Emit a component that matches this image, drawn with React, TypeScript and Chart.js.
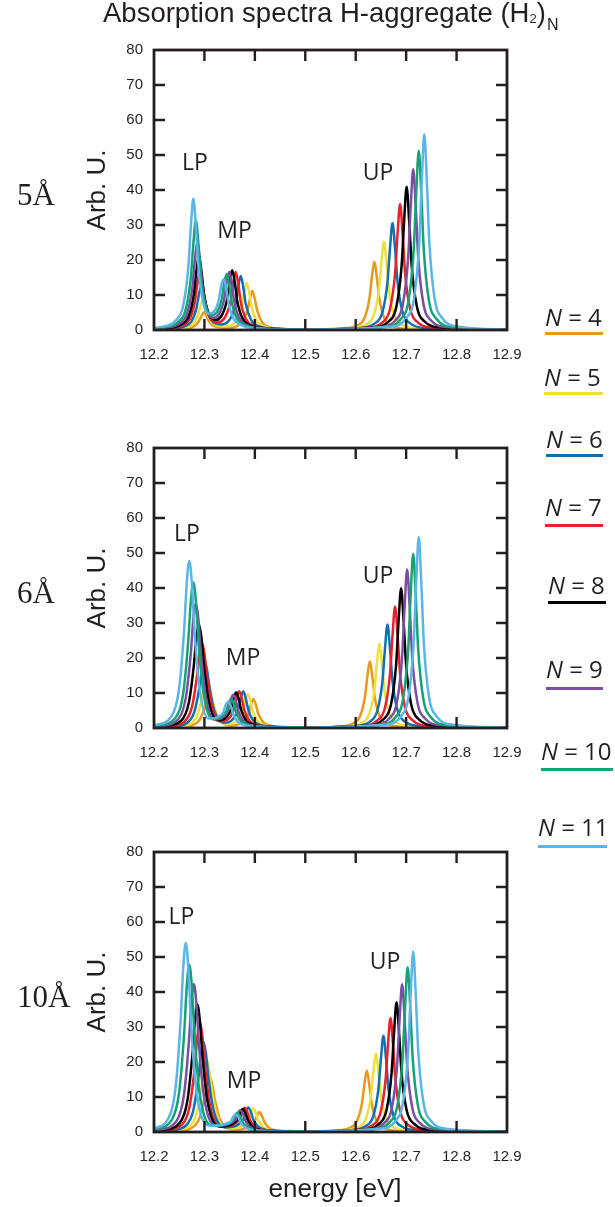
import React, { useEffect, useRef } from 'react';
import { Chart, registerables } from 'chart.js';

Chart.register(...registerables);

type Pt = [number, number];

// ---------- chart values ----------
const seriesN = [4, 5, 6, 7, 8, 9, 10, 11];
const seriesColors = ['#E9981C', '#EEE13A', '#1170B5', '#E8212B', '#000000', '#7B4FA0', '#16A274', '#5BB5E8'];
const xTicks = [12.2, 12.3, 12.4, 12.5, 12.6, 12.7, 12.8, 12.9];
const xTickLabels = ['12.2', '12.3', '12.4', '12.5', '12.6', '12.7', '12.8', '12.9'];
const yTicks = [0, 10, 20, 30, 40, 50, 60, 70, 80];
const yTickLabels = ['0', '10', '20', '30', '40', '50', '60', '70', '80'];
const panelLabels = ['5Å', '6Å', '10Å'];
const peakLabels = ['LP', 'MP', 'UP'];
const yTitle = 'Arb. U.';
const xTitle = 'energy [eV]';

// 5 Å spectra (energy eV, absorbance)
const s5_N4: Pt[] = [[12.2,0.05],[12.229,0.1],[12.264,0.4],[12.279,1.0],[12.289,2.5],[12.294,4.0],[12.299,5.1],[12.304,4.0],[12.309,2.5],[12.319,1.1],[12.347,0.6],[12.385,5.4],[12.39,8.8],[12.395,11.2],[12.4,8.8],[12.405,5.4],[12.415,2.1],[12.43,0.8],[12.465,0.25],[12.5,0.15],[12.567,0.35],[12.602,1.25],[12.617,3.3],[12.627,8.8],[12.632,15.0],[12.637,19.6],[12.642,15.0],[12.647,8.8],[12.657,3.3],[12.672,1.2],[12.707,0.3],[12.9,0.05]];
const s5_N5: Pt[] = [[12.2,0.1],[12.227,0.2],[12.262,0.65],[12.277,1.7],[12.287,4.2],[12.292,6.8],[12.297,8.6],[12.302,6.8],[12.307,4.2],[12.317,1.8],[12.3405,1.0],[12.374,6.5],[12.379,10.6],[12.384,13.4],[12.389,10.6],[12.394,6.4],[12.404,2.5],[12.419,1.0],[12.454,0.3],[12.5,0.15],[12.586,0.45],[12.621,1.6],[12.636,4.3],[12.646,11.3],[12.651,19.3],[12.656,25.3],[12.661,19.3],[12.666,11.3],[12.676,4.3],[12.691,1.6],[12.726,0.4],[12.9,0.05]];
const s5_N6: Pt[] = [[12.2,0.15],[12.224,0.3],[12.259,1.0],[12.274,2.4],[12.284,6.1],[12.289,10.0],[12.294,12.7],[12.299,10.1],[12.304,6.2],[12.314,2.7],[12.333,1.6],[12.362,7.5],[12.367,12.3],[12.372,15.4],[12.377,12.2],[12.382,7.4],[12.392,3.0],[12.407,1.1],[12.442,0.35],[12.5,0.15],[12.603,0.5],[12.638,1.9],[12.653,5.1],[12.663,13.7],[12.668,23.4],[12.673,30.6],[12.678,23.4],[12.683,13.7],[12.693,5.1],[12.708,1.9],[12.743,0.5],[12.9,0.05]];
const s5_N7: Pt[] = [[12.2,0.25],[12.221,0.35],[12.256,1.3],[12.271,3.2],[12.281,8.0],[12.286,13.2],[12.291,16.8],[12.296,13.3],[12.301,8.2],[12.311,3.6],[12.3265,2.2],[12.352,8.3],[12.357,13.3],[12.362,16.6],[12.367,13.2],[12.372,8.1],[12.382,3.2],[12.397,1.3],[12.432,0.4],[12.5,0.15],[12.618,0.6],[12.653,2.2],[12.668,6.0],[12.678,16.1],[12.683,27.5],[12.688,36.0],[12.693,27.5],[12.698,16.1],[12.708,6.0],[12.723,2.2],[12.758,0.6],[12.9,0.05]];
const s5_N8: Pt[] = [[12.2,0.3],[12.219,0.45],[12.254,1.6],[12.269,4.0],[12.279,10.2],[12.284,16.7],[12.289,21.3],[12.294,16.9],[12.299,10.4],[12.309,4.6],[12.322,2.9],[12.345,8.7],[12.35,13.9],[12.355,17.1],[12.36,13.8],[12.365,8.4],[12.375,3.4],[12.39,1.4],[12.425,0.45],[12.5,0.15],[12.631,0.7],[12.666,2.5],[12.681,6.9],[12.691,18.3],[12.696,31.2],[12.701,40.9],[12.706,31.2],[12.711,18.3],[12.721,6.9],[12.736,2.5],[12.771,0.7],[12.9,0.05]];
const s5_N9: Pt[] = [[12.2,0.35],[12.216,0.55],[12.251,1.9],[12.266,4.8],[12.276,12.1],[12.281,19.9],[12.286,25.3],[12.291,20.0],[12.296,12.4],[12.306,5.4],[12.3175,3.5],[12.339,8.7],[12.344,13.7],[12.349,16.6],[12.354,13.5],[12.359,8.3],[12.369,3.4],[12.384,1.4],[12.419,0.45],[12.5,0.15],[12.644,0.75],[12.679,2.8],[12.694,7.7],[12.704,20.6],[12.709,35.1],[12.714,45.9],[12.719,35.1],[12.724,20.6],[12.734,7.7],[12.749,2.8],[12.784,0.75],[12.9,0.05]];
const s5_N10: Pt[] = [[12.2,0.45],[12.213,0.65],[12.248,2.3],[12.263,5.9],[12.273,14.9],[12.278,24.5],[12.283,31.3],[12.288,24.7],[12.293,15.2],[12.303,6.5],[12.3135,4.2],[12.334,8.6],[12.339,13.3],[12.344,15.9],[12.349,13.1],[12.354,8.1],[12.364,3.4],[12.379,1.4],[12.414,0.45],[12.5,0.15],[12.655,0.8],[12.69,3.2],[12.705,8.6],[12.715,22.9],[12.72,39.1],[12.725,51.2],[12.73,39.1],[12.735,22.9],[12.745,8.6],[12.76,3.2],[12.795,0.8],[12.9,0.1]];
const s5_N11: Pt[] = [[12.2,0.6],[12.208,0.75],[12.243,2.7],[12.258,7.0],[12.268,17.8],[12.273,29.4],[12.278,37.5],[12.283,29.6],[12.288,18.1],[12.298,7.6],[12.308,4.7],[12.328,8.2],[12.333,12.4],[12.338,14.5],[12.343,12.1],[12.348,7.5],[12.358,3.2],[12.373,1.4],[12.408,0.45],[12.5,0.15],[12.666,0.9],[12.701,3.5],[12.716,9.4],[12.726,25.0],[12.731,42.7],[12.736,55.9],[12.741,42.7],[12.746,25.0],[12.756,9.4],[12.771,3.5],[12.806,0.9],[12.9,0.1]];

// 6 Å spectra
const s6_N4: Pt[] = [[12.2,0.1],[12.24,0.15],[12.275,0.7],[12.29,2.2],[12.3,5.5],[12.305,7.9],[12.31,9.1],[12.315,7.9],[12.32,5.5],[12.33,2.3],[12.3535,0.7],[12.387,4.1],[12.392,6.6],[12.397,8.3],[12.402,6.6],[12.407,4.0],[12.417,1.6],[12.432,0.6],[12.467,0.25],[12.5,0.15],[12.558,0.3],[12.593,1.2],[12.608,3.2],[12.618,8.6],[12.623,14.6],[12.628,19.1],[12.633,14.6],[12.638,8.6],[12.648,3.2],[12.663,1.2],[12.698,0.3],[12.9,0.05]];
const s6_N5: Pt[] = [[12.2,0.1],[12.235,0.25],[12.27,1.0],[12.285,3.4],[12.295,8.5],[12.3,12.3],[12.305,14.1],[12.31,12.3],[12.315,8.6],[12.325,3.6],[12.3455,1.1],[12.376,4.8],[12.381,7.8],[12.386,9.7],[12.391,7.7],[12.396,4.7],[12.406,1.9],[12.421,0.75],[12.456,0.25],[12.5,0.15],[12.577,0.4],[12.612,1.5],[12.627,4.1],[12.637,10.8],[12.642,18.5],[12.647,24.2],[12.652,18.5],[12.657,10.8],[12.667,4.1],[12.682,1.5],[12.717,0.4],[12.9,0.05]];
const s6_N6: Pt[] = [[12.2,0.15],[12.23,0.3],[12.265,1.4],[12.28,4.6],[12.29,11.5],[12.295,16.6],[12.3,19.1],[12.305,16.7],[12.31,11.6],[12.32,4.8],[12.3385,1.5],[12.367,5.3],[12.372,8.5],[12.377,10.5],[12.382,8.4],[12.387,5.2],[12.397,2.1],[12.412,0.8],[12.447,0.3],[12.5,0.15],[12.593,0.5],[12.628,1.8],[12.643,5.0],[12.653,13.3],[12.658,22.6],[12.663,29.6],[12.668,22.6],[12.673,13.3],[12.683,5.0],[12.698,1.8],[12.733,0.5],[12.9,0.05]];
const s6_N7: Pt[] = [[12.2,0.2],[12.225,0.4],[12.26,1.8],[12.275,5.9],[12.285,14.6],[12.29,21.2],[12.295,24.3],[12.3,21.3],[12.305,14.8],[12.315,6.1],[12.332,1.9],[12.359,5.4],[12.364,8.6],[12.369,10.5],[12.374,8.5],[12.379,5.2],[12.389,2.1],[12.404,0.85],[12.439,0.3],[12.5,0.15],[12.608,0.55],[12.643,2.2],[12.658,5.8],[12.668,15.5],[12.673,26.5],[12.678,34.7],[12.683,26.5],[12.688,15.5],[12.698,5.8],[12.713,2.2],[12.748,0.55],[12.9,0.05]];
const s6_N8: Pt[] = [[12.2,0.3],[12.219,0.5],[12.254,2.1],[12.269,7.2],[12.279,17.9],[12.284,25.9],[12.289,29.7],[12.294,25.9],[12.299,18.0],[12.309,7.4],[12.326,2.2],[12.353,5.4],[12.358,8.5],[12.363,10.2],[12.368,8.4],[12.373,5.1],[12.383,2.1],[12.398,0.9],[12.433,0.3],[12.5,0.15],[12.62,0.65],[12.655,2.5],[12.67,6.7],[12.68,17.9],[12.685,30.5],[12.69,39.9],[12.695,30.5],[12.7,17.9],[12.71,6.7],[12.725,2.5],[12.76,0.65],[12.9,0.05]];
const s6_N9: Pt[] = [[12.2,0.4],[12.213,0.55],[12.248,2.5],[12.263,8.6],[12.273,21.4],[12.278,31.0],[12.283,35.6],[12.288,31.1],[12.293,21.5],[12.303,8.8],[12.32,2.4],[12.347,5.2],[12.352,8.0],[12.357,9.5],[12.362,7.9],[12.367,4.9],[12.377,2.0],[12.392,0.85],[12.427,0.3],[12.5,0.15],[12.632,0.75],[12.667,2.8],[12.682,7.6],[12.692,20.3],[12.697,34.6],[12.702,45.3],[12.707,34.6],[12.712,20.3],[12.722,7.6],[12.737,2.8],[12.772,0.75],[12.9,0.05]];
const s6_N10: Pt[] = [[12.2,0.5],[12.208,0.65],[12.243,3.0],[12.258,10.0],[12.268,25.0],[12.273,36.2],[12.278,41.6],[12.283,36.3],[12.288,25.1],[12.298,10.2],[12.3155,2.6],[12.343,4.7],[12.348,7.1],[12.353,8.3],[12.358,7.0],[12.363,4.4],[12.373,1.9],[12.388,0.8],[12.423,0.3],[12.5,0.15],[12.644,0.8],[12.679,3.1],[12.694,8.4],[12.704,22.3],[12.709,38.0],[12.714,49.8],[12.719,38.0],[12.724,22.3],[12.734,8.4],[12.749,3.1],[12.784,0.8],[12.9,0.05]];
const s6_N11: Pt[] = [[12.2,0.7],[12.235,3.4],[12.25,11.5],[12.26,28.6],[12.265,41.5],[12.27,47.7],[12.275,41.5],[12.28,28.7],[12.29,11.6],[12.3085,2.7],[12.337,4.3],[12.342,6.5],[12.347,7.4],[12.352,6.4],[12.357,4.0],[12.367,1.7],[12.382,0.75],[12.417,0.3],[12.5,0.15],[12.655,0.9],[12.69,3.4],[12.705,9.2],[12.715,24.5],[12.72,41.7],[12.725,54.6],[12.73,41.7],[12.735,24.5],[12.745,9.2],[12.76,3.4],[12.795,0.9],[12.9,0.1]];

// 10 Å spectra
const s10_N4: Pt[] = [[12.2,0.1],[12.24,0.25],[12.275,1.2],[12.29,3.9],[12.3,9.7],[12.305,14.0],[12.31,16.1],[12.315,14.0],[12.32,9.7],[12.33,3.9],[12.3595,0.7],[12.399,2.9],[12.404,4.6],[12.409,5.7],[12.414,4.6],[12.419,2.8],[12.429,1.1],[12.444,0.45],[12.479,0.25],[12.5,0.2],[12.552,0.3],[12.587,1.1],[12.602,3.0],[12.612,7.9],[12.617,13.4],[12.622,17.6],[12.627,13.4],[12.632,7.9],[12.642,3.0],[12.657,1.1],[12.692,0.3],[12.9,0.05]];
const s10_N5: Pt[] = [[12.2,0.15],[12.234,0.35],[12.269,1.5],[12.284,5.0],[12.294,12.5],[12.299,18.2],[12.304,20.9],[12.309,18.2],[12.314,12.6],[12.324,5.1],[12.3505,1.0],[12.387,3.4],[12.392,5.5],[12.397,6.7],[12.402,5.4],[12.407,3.3],[12.417,1.4],[12.432,0.55],[12.467,0.2],[12.5,0.15],[12.57,0.4],[12.605,1.4],[12.62,3.8],[12.63,10.1],[12.635,17.2],[12.64,22.5],[12.645,17.2],[12.65,10.1],[12.66,3.8],[12.675,1.4],[12.71,0.4],[12.9,0.05]];
const s10_N6: Pt[] = [[12.2,0.2],[12.228,0.4],[12.263,1.8],[12.278,6.2],[12.288,15.5],[12.293,22.4],[12.298,25.8],[12.303,22.4],[12.308,15.5],[12.318,6.3],[12.3425,1.3],[12.377,3.6],[12.382,5.8],[12.387,7.0],[12.392,5.7],[12.397,3.5],[12.407,1.5],[12.422,0.6],[12.457,0.25],[12.5,0.15],[12.585,0.45],[12.62,1.7],[12.635,4.6],[12.645,12.3],[12.65,21.0],[12.655,27.5],[12.66,21.0],[12.665,12.3],[12.675,4.6],[12.69,1.7],[12.725,0.45],[12.9,0.05]];
const s10_N7: Pt[] = [[12.2,0.3],[12.221,0.5],[12.256,2.2],[12.271,7.6],[12.281,18.8],[12.286,27.3],[12.291,31.4],[12.296,27.3],[12.301,18.9],[12.311,7.6],[12.3355,1.5],[12.37,3.7],[12.375,5.7],[12.38,6.9],[12.385,5.7],[12.39,3.5],[12.4,1.5],[12.415,0.6],[12.45,0.25],[12.5,0.15],[12.599,0.55],[12.634,2.0],[12.649,5.5],[12.659,14.6],[12.664,24.9],[12.669,32.6],[12.674,24.9],[12.679,14.6],[12.689,5.5],[12.704,2.0],[12.739,0.55],[12.9,0.05]];
const s10_N8: Pt[] = [[12.2,0.4],[12.216,0.55],[12.251,2.6],[12.266,8.8],[12.276,21.8],[12.281,31.6],[12.286,36.4],[12.291,31.7],[12.296,21.9],[12.306,8.8],[12.331,1.6],[12.366,3.6],[12.371,5.6],[12.376,6.6],[12.381,5.5],[12.386,3.4],[12.396,1.4],[12.411,0.6],[12.446,0.25],[12.5,0.15],[12.611,0.6],[12.646,2.3],[12.661,6.2],[12.671,16.6],[12.676,28.3],[12.681,37.1],[12.686,28.3],[12.691,16.6],[12.701,6.2],[12.716,2.3],[12.751,0.6],[12.9,0.05]];
const s10_N9: Pt[] = [[12.2,0.5],[12.209,0.65],[12.244,3.0],[12.259,10.2],[12.269,25.4],[12.274,36.8],[12.279,42.3],[12.284,36.8],[12.289,25.4],[12.299,10.2],[12.325,1.8],[12.361,3.4],[12.366,5.3],[12.371,6.2],[12.376,5.2],[12.381,3.3],[12.391,1.4],[12.406,0.6],[12.441,0.25],[12.5,0.15],[12.622,0.7],[12.657,2.6],[12.672,7.1],[12.682,18.9],[12.687,32.2],[12.692,42.2],[12.697,32.2],[12.702,18.9],[12.712,7.1],[12.727,2.6],[12.762,0.7],[12.9,0.05]];
const s10_N10: Pt[] = [[12.2,0.7],[12.235,3.4],[12.25,11.5],[12.26,28.7],[12.265,41.6],[12.27,47.8],[12.275,41.6],[12.28,28.7],[12.29,11.6],[12.3175,1.8],[12.355,3.1],[12.36,4.7],[12.365,5.4],[12.37,4.6],[12.375,2.9],[12.385,1.3],[12.4,0.55],[12.435,0.25],[12.5,0.15],[12.633,0.8],[12.668,2.9],[12.683,7.9],[12.693,21.1],[12.698,36.0],[12.703,47.1],[12.708,36.0],[12.713,21.1],[12.723,7.9],[12.738,2.9],[12.773,0.8],[12.9,0.05]];
const s10_N11: Pt[] = [[12.2,1.0],[12.228,3.8],[12.243,13.0],[12.253,32.4],[12.258,47.0],[12.263,54.0],[12.268,47.0],[12.273,32.5],[12.283,13.0],[12.3125,1.8],[12.352,2.9],[12.357,4.4],[12.362,5.0],[12.367,4.3],[12.372,2.7],[12.382,1.2],[12.397,0.55],[12.432,0.25],[12.5,0.15],[12.644,0.85],[12.679,3.2],[12.694,8.7],[12.704,23.1],[12.709,39.4],[12.714,51.6],[12.719,39.4],[12.724,23.1],[12.734,8.7],[12.749,3.2],[12.784,0.85],[12.9,0.1]];

const spectra5A = [s5_N4, s5_N5, s5_N6, s5_N7, s5_N8, s5_N9, s5_N10, s5_N11];
const spectra6A = [s6_N4, s6_N5, s6_N6, s6_N7, s6_N8, s6_N9, s6_N10, s6_N11];
const spectra10A = [s10_N4, s10_N5, s10_N6, s10_N7, s10_N8, s10_N9, s10_N10, s10_N11];

// ---------- layout (positions / styles only) ----------
const TEXT = '#231f20';
const SANS = '"Liberation Sans", Arial, sans-serif';
const HUMAN = '"Open Sans", "Noto Sans", sans-serif';
const PAD_TOP = 15;
const PLOT_H = 285;
const panelLayout = [
  { plotTop: 45, xAxisH: 45, labelTop: 179,
    peakPos: [[195, 161], [234.5, 229], [378, 171]] },
  { plotTop: 443, xAxisH: 45, labelTop: 577,
    peakPos: [[187, 532], [243, 656], [378, 574]] },
  { plotTop: 847, xAxisH: 75, labelTop: 981,
    peakPos: [[181.5, 915], [244, 1079], [385, 960]] },
];
const legendLayout = [
  { tx: 545, ty: 318, x1: 545, x2: 603, ly: 333 },
  { tx: 544, ty: 378, x1: 544, x2: 603, ly: 393 },
  { tx: 546, ty: 440, x1: 546, x2: 603, ly: 455 },
  { tx: 545, ty: 508, x1: 545, x2: 603, ly: 525 },
  { tx: 548, ty: 586, x1: 548, x2: 606, ly: 602 },
  { tx: 546, ty: 670, x1: 546, x2: 603, ly: 688 },
  { tx: 541, ty: 752, x1: 541, x2: 613, ly: 769 },
  { tx: 538, ty: 828, x1: 538, x2: 607, ly: 846 },
];

const framePlugin = {
  id: 'innerFrame',
  afterDatasetsDraw(chart: any) {
    const { ctx, chartArea, scales } = chart;
    const { left, right, top, bottom } = chartArea;
    const xs = scales.x;
    const ys = scales.y;
    ctx.save();
    ctx.strokeStyle = TEXT;
    ctx.lineCap = 'butt';
    ctx.lineWidth = 2.4;
    ctx.beginPath();
    for (const v of yTicks.slice(1, -1)) {
      const py = ys.getPixelForValue(v);
      ctx.moveTo(left, py); ctx.lineTo(left + 11, py);
      ctx.moveTo(right, py); ctx.lineTo(right - 11, py);
    }
    for (const v of xTicks.slice(1, -1)) {
      const px = xs.getPixelForValue(v);
      ctx.moveTo(px, bottom); ctx.lineTo(px, bottom - 11);
      ctx.moveTo(px, top); ctx.lineTo(px, top + 11);
    }
    ctx.stroke();
    ctx.lineWidth = 2.8;
    ctx.strokeRect(left, top, right - left, bottom - top);
    ctx.restore();
  },
};

function SpectrumPanel({ series, canvasTop, xAxisH }: { series: Pt[][]; canvasTop: number; xAxisH: number }) {
  const ref = useRef<HTMLCanvasElement | null>(null);
  const height = PAD_TOP + PLOT_H + xAxisH;
  useEffect(() => {
    const canvas = ref.current;
    if (!canvas) return;
    const datasets: any[] = [];
    for (let i = series.length - 1; i >= 0; i--) {
      datasets.push({
        label: `N = ${seriesN[i]}`,
        data: series[i].map(([x, y]) => ({ x, y })),
        borderColor: seriesColors[i],
        backgroundColor: seriesColors[i],
        borderWidth: 2.5,
        pointRadius: 0,
        pointHoverRadius: 0,
        cubicInterpolationMode: 'monotone',
        fill: false,
      });
    }
    const chart = new Chart(canvas, {
      type: 'line',
      data: { datasets },
      options: {
        animation: false,
        responsive: false,
        devicePixelRatio: 1,
        events: [],
        layout: { padding: { top: PAD_TOP, right: 615 - 507, left: 0, bottom: 0 } },
        plugins: { legend: { display: false }, tooltip: { enabled: false } },
        scales: {
          x: {
            type: 'linear',
            min: 12.2,
            max: 12.9,
            afterBuildTicks: (s: any) => { s.ticks = xTicks.map((v) => ({ value: v })); },
            afterFit: (s: any) => { s.height = xAxisH; },
            ticks: {
              autoSkip: false,
              maxRotation: 0,
              padding: 16,
              color: TEXT,
              font: { family: SANS, size: 15 },
              callback: (_v: any, i: number) => xTickLabels[i],
            },
            grid: { display: false, drawTicks: false },
            border: { display: false },
          },
          y: {
            min: 0,
            max: 80,
            afterBuildTicks: (s: any) => { s.ticks = yTicks.map((v) => ({ value: v })); },
            afterFit: (s: any) => { s.width = 154; },
            ticks: {
              padding: 11,
              color: TEXT,
              font: { family: SANS, size: 15 },
              callback: (_v: any, i: number) => yTickLabels[i],
            },
            grid: { display: false, drawTicks: false },
            border: { display: false },
            title: {
              display: true,
              text: yTitle,
              color: TEXT,
              font: { family: SANS, size: 26 },
              padding: { top: 82, bottom: 0 },
            },
          },
        },
      },
      plugins: [framePlugin],
    } as any);
    return () => chart.destroy();
  }, [series, xAxisH]);
  return (
    <canvas
      ref={ref}
      width={615}
      height={height}
      style={{ position: 'absolute', left: 0, top: canvasTop, width: 615, height, display: 'block' }}
    />
  );
}

export default function App() {
  const allSpectra = [spectra5A, spectra6A, spectra10A];
  return (
    <div style={{ position: 'absolute', left: 0, top: 0, width: 615, height: 1207, overflow: 'hidden', background: '#fff' }}>
      {allSpectra.map((s, i) => (
        <SpectrumPanel key={i} series={s} canvasTop={panelLayout[i].plotTop - PAD_TOP} xAxisH={panelLayout[i].xAxisH} />
      ))}

      {/* title */}
      <div style={{ position: 'absolute', left: 103, top: -1.5, font: `27.5px ${SANS}`, lineHeight: '27.5px', color: TEXT, whiteSpace: 'nowrap' }}>
        Absorption spectra H-aggregate (H<span style={{ fontSize: 13, verticalAlign: '-1px' }}>2</span>)<span style={{ fontSize: 16, verticalAlign: '-8px', marginLeft: 1 }}>N</span>
      </div>

      {/* x title */}
      <div style={{ position: 'absolute', left: 335, top: 1175, transform: 'translateX(-50%)', font: `26px ${SANS}`, lineHeight: '26px', color: TEXT, whiteSpace: 'nowrap' }}>
        {xTitle}
      </div>

      {/* separation labels */}
      {panelLabels.map((t, i) => (
        <div key={t} style={{ position: 'absolute', left: 17, top: panelLayout[i].labelTop, font: `31px "Liberation Serif", "Times New Roman", serif`, lineHeight: '31px', color: TEXT, whiteSpace: 'nowrap' }}>
          {t}
        </div>
      ))}

      {/* peak labels */}
      {panelLayout.map((p, i) =>
        peakLabels.map((t, j) => (
          <div key={`${i}-${t}`} style={{ position: 'absolute', left: p.peakPos[j][0], top: p.peakPos[j][1], transform: 'translate(-50%, -50%)', font: `23px ${HUMAN}`, lineHeight: '23px', color: TEXT, whiteSpace: 'nowrap' }}>
            {t}
          </div>
        ))
      )}

      {/* legend */}
      {seriesN.map((n, i) => {
        const L = legendLayout[i];
        return (
          <React.Fragment key={n}>
            <div style={{ position: 'absolute', left: L.tx, top: L.ty - 12.7, font: `24px ${HUMAN}`, lineHeight: '24px', color: TEXT, whiteSpace: 'nowrap' }}>
              <span style={{ fontStyle: 'italic' }}>N</span> = {n}
            </div>
            <div style={{ position: 'absolute', left: L.x1, top: L.ly - 1.5, width: L.x2 - L.x1, height: 3, background: seriesColors[i] }} />
          </React.Fragment>
        );
      })}
    </div>
  );
}
